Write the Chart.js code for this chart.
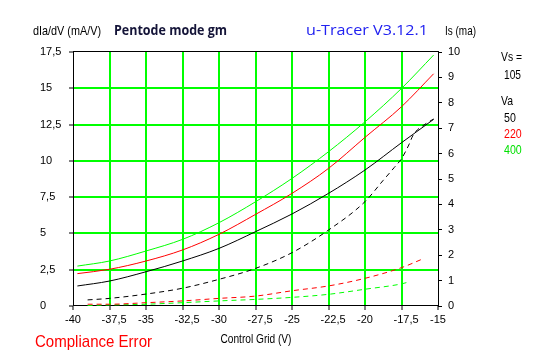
<!DOCTYPE html>
<html><head><meta charset="utf-8">
<script src="https://cdn.jsdelivr.net/npm/chart.js@4/dist/chart.umd.min.js"></script>
<style>html,body{margin:0;padding:0;background:#fff;overflow:hidden}#wrap{width:547px;height:357px;position:relative}</style>
</head><body><div id="wrap"><canvas id="c" width="547" height="357"></canvas></div>
<script>
// ---- data ----
const gmGrid = [-39.7, -37.5, -35, -32.5, -30, -27.5, -25, -22.5, -20, -17.5, -15.3];
const gmVa50  = [1.38, 1.72, 2.36, 3.10, 3.97, 5.12, 6.34, 7.76, 9.37, 11.25, 12.86];
const gmVa220 = [2.23, 2.53, 3.10, 3.86, 4.94, 6.31, 7.76, 9.48, 11.62, 13.73, 16.00];
const gmVa400 = [2.75, 3.10, 3.79, 4.59, 5.74, 7.18, 8.79, 10.63, 12.69, 14.99, 17.29];

const isGrid50 = [-39, -37.5, -35, -32.5, -30, -27.5, -25, -22.5, -20, -18.75, -18, -17.5, -17, -16.7, -15.8, -15.3];
const isVa50   = [0.24, 0.30, 0.47, 0.70, 1.05, 1.48, 2.10, 2.99, 4.11, 4.95, 5.45, 5.80, 6.34, 6.73, 7.19, 7.36];
const isGrid220 = [-39, -37.5, -35, -32.5, -30, -27.5, -25, -22.5, -20, -17.5, -16.1];
const isVa220   = [0.07, 0.07, 0.13, 0.20, 0.30, 0.39, 0.60, 0.79, 1.09, 1.51, 1.84];
const isGrid400 = [-39, -37.5, -35, -32.5, -30, -27.5, -25, -22.5, -20, -17.5, -17.1];
const isVa400   = [0.02, 0.04, 0.07, 0.13, 0.20, 0.26, 0.34, 0.46, 0.66, 0.87, 0.93];

const xTickValues = [-40, -37.5, -35, -32.5, -30, -27.5, -25, -22.5, -20, -17.5, -15];
const gmTickValues = [0, 2.5, 5, 7.5, 10, 12.5, 15, 17.5];
const isTickValues = [0, 1, 2, 3, 4, 5, 6, 7, 8, 9, 10];
const vaLabels = ['50', '220', '400'];
const vsValue = '105';

// ---- helpers ----
const pts = (xs, ys) => xs.map((x, i) => ({x: x, y: ys[i]}));
const comma = v => String(v).replace('.', ',');
const TICKFONT = "'Liberation Sans', Arial, sans-serif";
const TEXTFONT = "'Liberation Sans Narrow', 'Liberation Sans', Arial, sans-serif";
const GREEN = '#00ff00';

function fitText(ctx, text, x, y, width, font, color, align) {
  ctx.save();
  ctx.font = font;
  ctx.fillStyle = color;
  ctx.textBaseline = 'middle';
  ctx.textAlign = 'left';
  const w = ctx.measureText(text).width;
  const sx = width / w;
  const x0 = align === 'center' ? x - width / 2 : x;
  ctx.translate(x0, y);
  ctx.scale(sx, 1);
  ctx.fillText(text, 0, 0);
  ctx.restore();
}

const decor = {
  id: 'decor',
  beforeDatasetsDraw(chart) {
    const {ctx, chartArea: a} = chart;
    ctx.save();
    ctx.strokeStyle = '#000';
    ctx.lineWidth = 1;
    ctx.strokeRect(Math.round(a.left) + 0.5, Math.round(a.top) - 0.5, Math.round(a.right - a.left), Math.round(a.bottom - a.top));
    ctx.restore();
  },
  afterDraw(chart) {
    const ctx = chart.ctx;
    const f13 = "13px " + TEXTFONT;
    fitText(ctx, 'dIa/dV (mA/V)', 33, 31, 68, f13, '#000');
    fitText(ctx, 'Pentode mode gm', 114, 31, 113, "bold 14px 'Open Sans', 'Noto Sans', sans-serif", '#141438');
    fitText(ctx, 'u-Tracer V3.12.1', 306, 31, 122, "15px 'Open Sans', 'DejaVu Sans', sans-serif", '#2222f0');
    fitText(ctx, 'Is (ma)', 445, 31, 31, f13, '#000');
    fitText(ctx, 'Vs =', 501, 57, 21, f13, '#000');
    fitText(ctx, vsValue, 504, 75, 17, f13, '#000');
    fitText(ctx, 'Va', 501, 101, 12, f13, '#000');
    const vaCols = ['#000', '#ff0000', '#00e000'];
    const vaY = [118, 134, 150];
    vaLabels.forEach((t, i) => fitText(ctx, t, 504, vaY[i], t.length * 5.9, f13, vaCols[i]));
    fitText(ctx, 'Control Grid (V)', 256, 339, 71, f13, '#000', 'center');
    fitText(ctx, 'Compliance Error', 35, 342, 117, "17px 'Liberation Sans', Arial, sans-serif", '#ff0000');
  }
};

const solid = (label, data, color) => ({
  label, data, yAxisID: 'y', borderColor: color, backgroundColor: color,
  borderWidth: 1, pointRadius: 0, fill: false, cubicInterpolationMode: 'monotone'
});
const dashed = (label, data, color) => ({
  label, data, yAxisID: 'y2', borderColor: color, backgroundColor: color,
  borderWidth: 1, borderDash: [5, 4], pointRadius: 0, fill: false, cubicInterpolationMode: 'monotone'
});

new Chart(document.getElementById('c'), {
  type: 'line',
  data: {
    datasets: [
      solid('gm Va 50', pts(gmGrid, gmVa50), '#000000'),
      solid('gm Va 220', pts(gmGrid, gmVa220), '#ff0000'),
      solid('gm Va 400', pts(gmGrid, gmVa400), GREEN),
      dashed('Is Va 50', pts(isGrid50, isVa50), '#000000'),
      dashed('Is Va 220', pts(isGrid220, isVa220), '#ff0000'),
      dashed('Is Va 400', pts(isGrid400, isVa400), GREEN)
    ]
  },
  options: {
    responsive: false,
    animation: false,
    devicePixelRatio: 1,
    layout: {padding: {left: 40, top: 52, right: 0, bottom: 0}},
    plugins: {legend: {display: false}, tooltip: {enabled: false}},
    scales: {
      x: {
        type: 'linear', min: -40, max: -15,
        afterBuildTicks: s => { s.ticks = xTickValues.map(v => ({value: v})); },
        afterFit: s => { s.height = 51; },
        border: {display: false},
        grid: {
          color: c => (c.tick && (c.tick.value === -40 || c.tick.value === -15)) ? 'rgba(0,0,0,0)' : GREEN,
          lineWidth: 2, tickColor: '#000', tickLength: 4, tickWidth: 1
        },
        ticks: {color: '#000', font: {family: TICKFONT, size: 11}, padding: 3, maxRotation: 0, autoSkip: false,
                callback: v => (Number.isInteger(v) ? '' : '   ') + comma(v)}
      },
      y: {
        type: 'linear', position: 'left', min: 0, max: 17.5,
        afterBuildTicks: s => { s.ticks = gmTickValues.map(v => ({value: v})); },
        afterFit: s => { s.width = 33; },
        border: {display: false},
        grid: {
          color: c => (c.tick && (c.tick.value === 0 || c.tick.value === 17.5)) ? 'rgba(0,0,0,0)' : GREEN,
          lineWidth: 2, tickColor: '#000', tickLength: 4, tickWidth: 1
        },
        ticks: {color: '#000', font: {family: TICKFONT, size: 11}, crossAlign: 'far', autoSkip: false,
                callback: v => comma(v)}
      },
      y2: {
        type: 'linear', position: 'right', min: 0, max: 10,
        afterBuildTicks: s => { s.ticks = isTickValues.map(v => ({value: v})); },
        afterFit: s => { s.width = 109; },
        border: {display: false},
        grid: {drawOnChartArea: false, tickColor: '#000', tickLength: 4, tickWidth: 1},
        ticks: {color: '#000', font: {family: TICKFONT, size: 11}, padding: 6, crossAlign: 'near', autoSkip: false,
                callback: v => String(v)}
      }
    }
  },
  plugins: [decor]
});
</script>
</body></html>
